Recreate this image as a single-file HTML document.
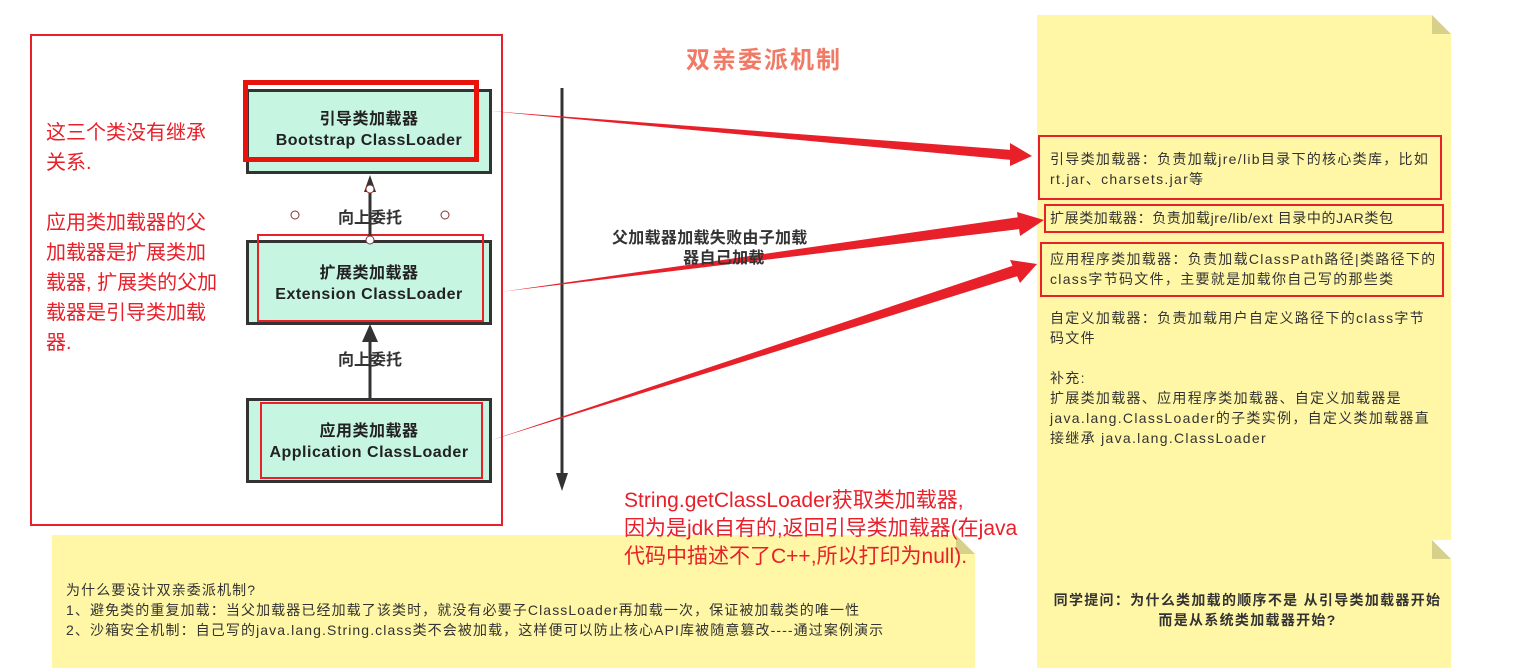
<!DOCTYPE html>
<html><head><meta charset="utf-8"><style>
body{margin:0;width:1515px;height:668px;background:#fff;position:relative;overflow:hidden;font-family:"Liberation Sans","Noto Sans CJK SC",sans-serif}
.a{position:absolute}
.box{position:absolute;background:#c6f5e2;border:3px solid #333;box-sizing:border-box;text-align:center;font-size:16px;color:#222;font-weight:bold;line-height:21px;letter-spacing:0.5px}
.rb{position:absolute;border:2px solid #e8202a;box-sizing:border-box}
.t{position:absolute;font-size:14px;color:#333;line-height:20px;letter-spacing:1.3px}
</style></head><body>
<div class="a" style="left:1037px;top:15px;width:414px;height:653px;background:#fff7a6"></div>
<div class="a" style="left:1432px;top:15px;width:0;height:0;border-left:19px solid #d6d08a;border-top:19px solid #fff"></div>
<div class="a" style="left:1432px;top:540px;width:0;height:0;border-left:19px solid #d6d08a;border-top:19px solid #fff"></div>
<div class="a" style="left:52px;top:535px;width:923px;height:133px;background:#fff7a6"></div>
<div class="a" style="left:956px;top:535px;width:0;height:0;border-left:19px solid #d6d08a;border-top:19px solid #fff"></div>
<div class="rb" style="left:30px;top:34px;width:473px;height:492px"></div>
<div class="a" style="left:686px;top:40px;font-size:24px;font-weight:bold;color:#f07a66;letter-spacing:2px">双亲委派机制</div>
<div class="a" style="left:46px;top:118px;width:172px;font-size:20px;line-height:30px;color:#e8202a">这三个类没有继承关系.<br><br>应用类加载器的父加载器是扩展类加载器, 扩展类的父加载器是引导类加载器.</div>
<div class="box" style="left:246px;top:89px;width:246px;height:85px;padding-top:17px">引导类加载器<br>Bootstrap ClassLoader</div>
<div class="a" style="left:243px;top:80px;width:236px;height:82px;border:5px solid #e8140c;box-sizing:border-box"></div>
<div class="box" style="left:246px;top:240px;width:246px;height:85px;padding-top:20px">扩展类加载器<br>Extension ClassLoader</div>
<div class="rb" style="left:257px;top:234px;width:227px;height:88px"></div>
<div class="box" style="left:246px;top:398px;width:246px;height:85px;padding-top:20px">应用类加载器<br>Application ClassLoader</div>
<div class="rb" style="left:260px;top:402px;width:223px;height:77px"></div>
<svg class="a" style="left:0;top:0" width="1515" height="668">
<line x1="370" y1="240" x2="370" y2="190" stroke="#333" stroke-width="3"/><polygon points="364,192 376,192 370,175" fill="#333"/>
<line x1="370" y1="398" x2="370" y2="340" stroke="#333" stroke-width="3"/><polygon points="362,342 378,342 370,324" fill="#333"/>
<circle cx="370" cy="189" r="4" fill="#fff" stroke="#833"/><circle cx="370" cy="240" r="4" fill="#fff" stroke="#833"/>
<circle cx="295" cy="215" r="4" fill="#fff" stroke="#833"/><circle cx="445" cy="215" r="4" fill="#fff" stroke="#833"/>
<line x1="562" y1="88" x2="562" y2="475" stroke="#333" stroke-width="3"/><polygon points="556,473 568,473 562,491" fill="#333"/>
<polygon points="490,111 1012,150 1012,160" fill="#e8202a"/><polygon points="1010,143 1032,156 1010,166" fill="#e8202a"/>
<polygon points="500,292 1020,217 1020,229" fill="#e8202a"/><polygon points="1017,212 1044,220 1020,236" fill="#e8202a"/>
<polygon points="492,440 1015,265 1018,276" fill="#e8202a"/><polygon points="1010,260 1037,264 1020,283" fill="#e8202a"/>
</svg>
<div class="a" style="left:338px;top:204px;font-size:16px;font-weight:bold;color:#333">向上委托</div>
<div class="a" style="left:338px;top:346px;font-size:16px;font-weight:bold;color:#333">向上委托</div>
<div class="a" style="left:612px;top:229px;width:240px;font-size:16px;font-weight:bold;color:#333;line-height:20px;letter-spacing:0.3px">父加载器加载失败由子加载<br>&nbsp;&nbsp;&nbsp;&nbsp;&nbsp;&nbsp;&nbsp;&nbsp;&nbsp;&nbsp;&nbsp;&nbsp;&nbsp;&nbsp;&nbsp;器自己加载</div>
<div class="a" style="left:624px;top:487px;font-size:21px;line-height:28px;color:#e8202a">String.getClassLoader获取类加载器,<br>因为是jdk自有的,返回引导类加载器(在java<br>代码中描述不了C++,所以打印为null).</div>
<div class="rb" style="left:1038px;top:135px;width:404px;height:65px"></div>
<div class="rb" style="left:1044px;top:204px;width:400px;height:29px"></div>
<div class="rb" style="left:1040px;top:242px;width:404px;height:55px"></div>
<div class="t" style="left:1050px;top:149px;width:390px">引导类加载器：负责加载jre/lib目录下的核心类库，比如rt.jar、charsets.jar等</div>
<div class="t" style="left:1050px;top:208px;white-space:nowrap;letter-spacing:0.6px">扩展类加载器：负责加载jre/lib/ext 目录中的JAR类包</div>
<div class="t" style="left:1050px;top:249px;width:392px">应用程序类加载器：负责加载ClassPath路径|类路径下的class字节码文件，主要就是加载你自己写的那些类</div>
<div class="t" style="left:1050px;top:308px;width:385px">自定义加载器：负责加载用户自定义路径下的class字节码文件</div>
<div class="t" style="left:1050px;top:368px;width:385px">补充:<br>扩展类加载器、应用程序类加载器、自定义加载器是java.lang.ClassLoader的子类实例，自定义类加载器直接继承 java.lang.ClassLoader</div>
<div class="t" style="left:1050px;top:590px;width:395px;text-align:center;font-weight:bold">同学提问：为什么类加载的顺序不是 从引导类加载器开始而是从系统类加载器开始?</div>
<div class="t" style="left:66px;top:580px;width:905px;letter-spacing:1.1px">为什么要设计双亲委派机制?<br>1、避免类的重复加载：当父加载器已经加载了该类时，就没有必要子ClassLoader再加载一次，保证被加载类的唯一性<br>2、沙箱安全机制：自己写的java.lang.String.class类不会被加载，这样便可以防止核心API库被随意篡改----通过案例演示</div>
</body></html>
